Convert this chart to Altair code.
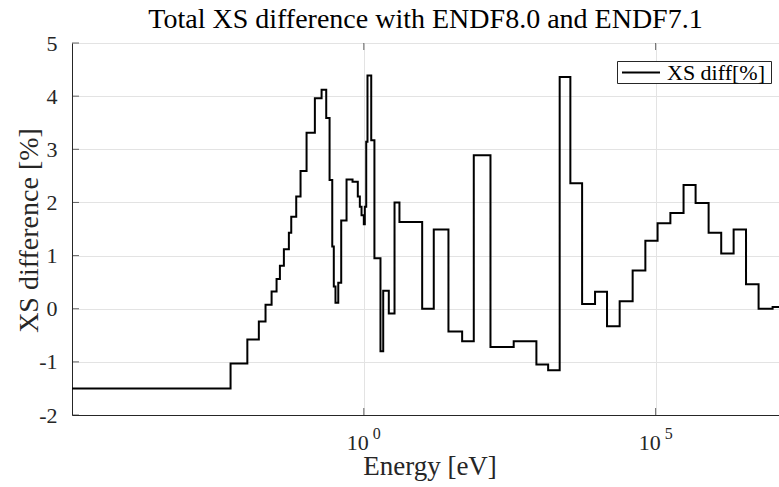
import altair as alt
import pandas as pd

# Lower energy edge of each group [eV] and the total cross-section
# difference ENDF/B-VIII.0 vs ENDF/B-VII.1 in that group [%]
energy_ev = [
    1e-5, 5.21e-3, 1.01e-2, 1.59e-2, 2.07e-2, 2.63e-2, 3.2e-2, 3.65e-2,
    4.27e-2, 5.2e-2, 5.71e-2, 6.95e-2, 8.24e-2, 0.1045, 0.145, 0.189,
    0.227, 0.259, 0.288, 0.306, 0.327, 0.365, 0.41, 0.506, 0.641, 0.789,
    0.855, 0.914, 1.0, 1.04, 1.10, 1.156, 1.34, 1.52, 1.93, 2.15, 2.68,
    3.36, 4.08, 10.0, 15.8, 28.2, 48.4, 76.6, 148.0, 370.0, 906.0, 1440.0,
    2270.0, 3460.0, 5500.0, 9160.0, 14700.0, 24200.0, 40400.0, 66700.0,
    1.08e5, 1.79e5, 3.01e5, 4.84e5, 8.09e5, 1.33e6, 2.17e6, 3.54e6,
    5.81e6, 1.01e7,
]
xs_diff_pct = [
    -1.5, -1.03, -0.58, -0.24, 0.075, 0.325, 0.56, 0.81,
    1.12, 1.43, 1.73, 2.11, 2.59, 3.31, 3.96, 4.12,
    3.59, 2.42, 1.17, 0.42, 0.11, 0.49, 1.66, 2.43, 2.39, 2.11,
    1.92, 1.76, 1.59, 1.92, 3.14, 4.39, 3.17, 0.95, -0.8, 0.34, -0.09,
    2.0, 1.63, 0.0, 1.49, -0.43, -0.61, 2.89, -0.72, -0.61, -1.05, -1.16,
    4.36, 2.36, 0.09, 0.32, -0.33, 0.14, 0.72, 1.28,
    1.61, 1.80, 2.33, 1.99, 1.43, 1.04, 1.49, 0.46,
    0.0, 0.03,
]
energy_upper_ev = 2e7

title_text = "Total XS difference with ENDF8.0 and ENDF7.1"
series_name = "XS diff[%]"
x_ticks = [1.0, 1e5]
x_tick_exp = ["0", "5"]
y_ticks = [-2, -1, 0, 1, 2, 3, 4, 5]

FONT = "Liberation Serif"
AXIS_COLOR = "#262626"
GRID_COLOR = "#e3e3e3"
W, H = 707, 372

# step curve: repeat the last group value at the upper edge
steps = pd.DataFrame({
    "E": energy_ev + [energy_upper_ev],
    "diff": xs_diff_pct + [xs_diff_pct[-1]],
})
ticks_x = pd.DataFrame({"E": x_ticks, "base": ["10"] * len(x_ticks), "exp": x_tick_exp})
ticks_y = pd.DataFrame({"v": y_ticks})
legend_df = pd.DataFrame({"name": [series_name]})
title_df = pd.DataFrame({"t": [title_text]})

x_scale = alt.Scale(type="log", domain=[1e-5, 1.3e7], nice=False)
y_scale = alt.Scale(domain=[-2, 5], nice=False)

curve = alt.Chart(steps).mark_line(
    interpolate="step-after", strokeWidth=2, clip=True, color="black"
).encode(
    x=alt.X("E:Q", scale=x_scale,
            axis=alt.Axis(values=x_ticks, labels=False, ticks=False, tickSize=0,
                          grid=True, gridColor=GRID_COLOR, domainColor=AXIS_COLOR,
                          title="Energy [eV]", titleFont=FONT, titleFontSize=27,
                          titleFontWeight="normal", titleColor="#262626",
                          titleBaseline="alphabetic", titleX=W / 2 + 4, titleY=59)),
    y=alt.Y("diff:Q", scale=y_scale,
            axis=alt.Axis(values=y_ticks, ticks=False, tickSize=0, labelPadding=15,
                          labelExpr="'' + datum.value",
                          labelFont=FONT, labelFontSize=22, labelColor="#262626",
                          grid=True, gridColor=GRID_COLOR, domainColor=AXIS_COLOR,
                          title="XS difference [%]", titleFont=FONT, titleFontSize=28,
                          titleFontWeight="normal", titleColor="#262626",
                          titleAngle=-90, titleAlign="center", titleBaseline="middle",
                          titleX=-43, titleY=H / 2 + 1)),
)

# inward tick marks (bottom, top, left)
xtick_bottom = alt.Chart(ticks_x).mark_tick(
    orient="vertical", color=AXIS_COLOR, size=7, thickness=1
).encode(x=alt.X("E:Q", scale=x_scale), y=alt.value(H - 3.5))
xtick_top = alt.Chart(ticks_x).mark_tick(
    orient="vertical", color=AXIS_COLOR, size=7, thickness=1
).encode(x=alt.X("E:Q", scale=x_scale), y=alt.value(3.5))
ytick_left = alt.Chart(ticks_y).mark_tick(
    orient="horizontal", color=AXIS_COLOR, size=7, thickness=1
).encode(y=alt.Y("v:Q", scale=y_scale), x=alt.value(3.5))

# "10^n" tick labels with a raised exponent
xlab_base = alt.Chart(ticks_x).mark_text(
    font=FONT, fontSize=22, color="#262626", align="center", baseline="alphabetic",
    dx=-6, dy=35
).encode(x=alt.X("E:Q", scale=x_scale), y=alt.value(H), text="base:N")
xlab_exp = alt.Chart(ticks_x).mark_text(
    font=FONT, fontSize=16, color="#262626", align="left", baseline="alphabetic",
    dx=9, dy=24
).encode(x=alt.X("E:Q", scale=x_scale), y=alt.value(H), text="exp:N")

# boxed legend in the upper right corner
leg_box = alt.Chart(legend_df).mark_rect(
    fill="white", stroke=AXIS_COLOR, strokeWidth=1
).encode(x=alt.value(545.5), x2=alt.value(699.5), y=alt.value(18.5), y2=alt.value(40.5))
leg_line = alt.Chart(legend_df).mark_rule(color="black", strokeWidth=2).encode(
    x=alt.value(550), x2=alt.value(588), y=alt.value(29.5), y2=alt.value(29.5)
)
leg_text = alt.Chart(legend_df).mark_text(
    font=FONT, fontSize=22, color="black", align="left", baseline="middle"
).encode(x=alt.value(595), y=alt.value(30), text="name:N")

# chart title, centred over the plot area
title_mark = alt.Chart(title_df).mark_text(
    font=FONT, fontSize=28, color="black", align="center", baseline="alphabetic"
).encode(x=alt.value(W / 2), y=alt.value(-15), text="t:N")

chart = alt.layer(
    curve, xtick_bottom, xtick_top, ytick_left, xlab_base, xlab_exp,
    leg_box, leg_line, leg_text, title_mark
).properties(
    width=W, height=H,
    autosize=alt.AutoSizeParams(type="none"),
    padding={"left": 72, "top": 43, "right": 0, "bottom": 72},
).configure_view(
    stroke=AXIS_COLOR, strokeWidth=1
).configure(background="white")

chart.save("out.html", embed_options={"renderer": "svg", "actions": False})
